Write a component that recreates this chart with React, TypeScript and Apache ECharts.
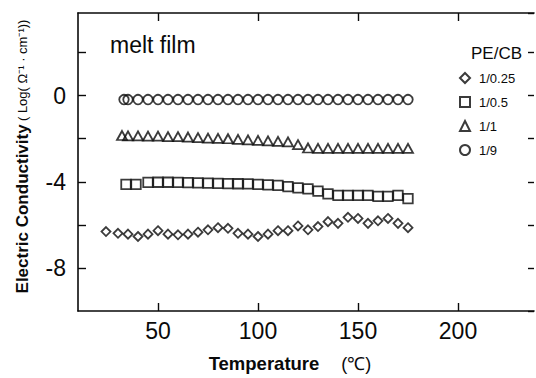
import React, { useEffect, useRef } from "react";
import * as echarts from "echarts";

// Temperature (°C) and log conductivity for each PE/CB ratio
const seriesNames = ["1/0.25", "1/0.5", "1/1", "1/9"];

const xDiamond = [24, 30, 35, 40, 45, 50, 55, 60, 65, 70, 75, 80, 85, 90, 95, 100, 105, 110, 115, 120, 125, 130, 135, 140, 145, 150, 155, 160, 165, 170, 175];
const yDiamond = [-6.31, -6.39, -6.43, -6.54, -6.43, -6.27, -6.43, -6.46, -6.43, -6.34, -6.23, -6.13, -6.16, -6.39, -6.43, -6.54, -6.43, -6.27, -6.27, -6.05, -6.23, -6.08, -5.85, -5.93, -5.65, -5.7, -5.93, -5.81, -5.7, -5.93, -6.13];

const xSquare = [34, 39, 45, 50, 55, 60, 65, 70, 75, 80, 85, 90, 95, 100, 105, 110, 115, 120, 125, 130, 135, 140, 145, 150, 155, 160, 165, 170, 175];
const ySquare = [-4.12, -4.12, -4.03, -4.02, -4.02, -4.03, -4.04, -4.05, -4.06, -4.07, -4.08, -4.09, -4.1, -4.12, -4.14, -4.17, -4.22, -4.28, -4.33, -4.43, -4.56, -4.63, -4.63, -4.63, -4.63, -4.68, -4.68, -4.63, -4.78];

const xTriangle = [32, 35, 40, 45, 50, 55, 60, 65, 70, 75, 80, 85, 90, 95, 100, 105, 110, 115, 120, 125, 130, 135, 140, 145, 150, 155, 160, 165, 170, 175];
const yTriangle = [-1.85, -1.87, -1.87, -1.88, -1.88, -1.9, -1.9, -1.92, -1.95, -1.97, -1.98, -2.0, -2.03, -2.05, -2.08, -2.1, -2.12, -2.15, -2.27, -2.43, -2.45, -2.45, -2.45, -2.45, -2.45, -2.45, -2.45, -2.45, -2.45, -2.45];

const xCircle = [33, 35, 40, 45, 50, 55, 60, 65, 70, 75, 80, 85, 90, 95, 100, 105, 110, 115, 120, 125, 130, 135, 140, 145, 150, 155, 160, 165, 170, 175];
const yCircle = [-0.18, -0.18, -0.18, -0.18, -0.18, -0.18, -0.18, -0.18, -0.18, -0.18, -0.18, -0.18, -0.18, -0.18, -0.18, -0.18, -0.18, -0.18, -0.18, -0.18, -0.18, -0.18, -0.18, -0.18, -0.18, -0.18, -0.18, -0.18, -0.18, -0.18];

const xTicks = [50, 100, 150, 200];
const yTicks = [-8, -6, -4, -2, 0, 2];
const yLabels = [-8, -4, 0];

const FONT = "'Liberation Sans', Arial, Helvetica, sans-serif";
const INK = "#0a0a0a";

const pairs = (xs: number[], ys: number[]) => xs.map((x, i) => [x, ys[i]]);

export default function App() {
  const ref = useRef<HTMLDivElement>(null);

  useEffect(() => {
    if (!ref.current) return;
    const chart = echarts.init(ref.current, undefined, { renderer: "svg" });
    const line = { show: true, onZero: false, lineStyle: { color: INK, width: 1.6 } };
    const tick = (vals: number[], len = 8) => ({
      show: true,
      inside: true,
      length: len,
      customValues: vals,
      lineStyle: { color: INK, width: 1.4 },
    });
    const markerStyle = { color: "rgba(255,255,255,0)", borderColor: INK, borderWidth: 1.8 };

    chart.setOption({
      animation: false,
      backgroundColor: "#ffffff",
      textStyle: { fontFamily: FONT },
      title: [
        { text: "melt film", left: 105, top: 28, textStyle: { fontFamily: FONT, fontSize: 23, fontWeight: "normal", color: INK } },
        { text: "PE/CB", left: 466, top: 40, textStyle: { fontFamily: FONT, fontSize: 17, fontWeight: "normal", color: INK } },
      ],
      legend: {
        orient: "vertical",
        left: 454,
        top: 66,
        itemWidth: 10,
        itemHeight: 10,
        itemGap: 10,
        data: seriesNames,
        textStyle: { fontFamily: FONT, fontSize: 13, color: INK, padding: [0, 0, 0, 4], lineHeight: 14 },
      },
      grid: { left: 78, top: 13, width: 456, height: 303 },
      xAxis: [
        {
          type: "value",
          position: "bottom",
          min: 10,
          max: 238,
          axisLine: line,
          axisTick: tick(xTicks),
          axisLabel: { customValues: xTicks, fontSize: 23, color: INK, margin: 8, fontFamily: FONT },
          splitLine: { show: false },
          name: "{b|Temperature}{n|(℃)}",
          nameLocation: "middle",
          nameGap: 43,
          nameTextStyle: {
            padding: [0, 32, 0, 0],
            rich: {
              b: { fontFamily: FONT, fontSize: 18.5, fontWeight: "bold", color: INK },
              n: { fontFamily: FONT, fontSize: 18, color: INK, padding: [0, 0, 0, 22] },
            },
          },
        },
        {
          type: "value",
          position: "top",
          min: 10,
          max: 238,
          axisLine: line,
          axisTick: tick(xTicks),
          axisLabel: { show: false },
          splitLine: { show: false },
        },
      ],
      yAxis: [
        {
          type: "value",
          position: "left",
          min: -10,
          max: 3.84,
          axisLine: line,
          axisTick: tick(yTicks),
          axisLabel: { customValues: yLabels, fontSize: 23, color: INK, margin: 12, fontFamily: FONT },
          splitLine: { show: false },
          name: "{b|Electric Conductivity} {s|( Log( Ω⁻¹ · cm⁻¹))}",
          nameLocation: "middle",
          nameGap: 47,
          nameTextStyle: {
            padding: [0, 0, 0, 11],
            rich: {
              b: { fontFamily: FONT, fontSize: 17, fontWeight: "bold", color: INK },
              s: { fontFamily: FONT, fontSize: 13, color: INK },
            },
          },
        },
        {
          type: "value",
          position: "right",
          min: -10,
          max: 3.84,
          interval: 2,
          alignTicks: false,
          axisLine: { show: false, onZero: false },
          axisTick: { show: true, inside: true, length: 6, lineStyle: { color: INK, width: 1.4 } },
          axisLabel: { show: false },
          splitLine: { show: false },
        },
      ],
      series: [
        { type: "scatter", name: seriesNames[0], symbol: "diamond", symbolSize: 9, data: pairs(xDiamond, yDiamond), itemStyle: markerStyle },
        { type: "scatter", name: seriesNames[1], symbol: "rect", symbolSize: 9.5, data: pairs(xSquare, ySquare), itemStyle: markerStyle },
        { type: "scatter", name: seriesNames[2], symbol: "triangle", symbolSize: [10, 9], data: pairs(xTriangle, yTriangle), itemStyle: markerStyle },
        { type: "scatter", name: seriesNames[3], symbol: "circle", symbolSize: 9.5, data: pairs(xCircle, yCircle), itemStyle: markerStyle },
      ],
    });
    return () => chart.dispose();
  }, []);

  return (
    <div
      ref={ref}
      style={{ position: "absolute", left: 0, top: 0, width: 536, height: 378, background: "#fff" }}
    />
  );
}
